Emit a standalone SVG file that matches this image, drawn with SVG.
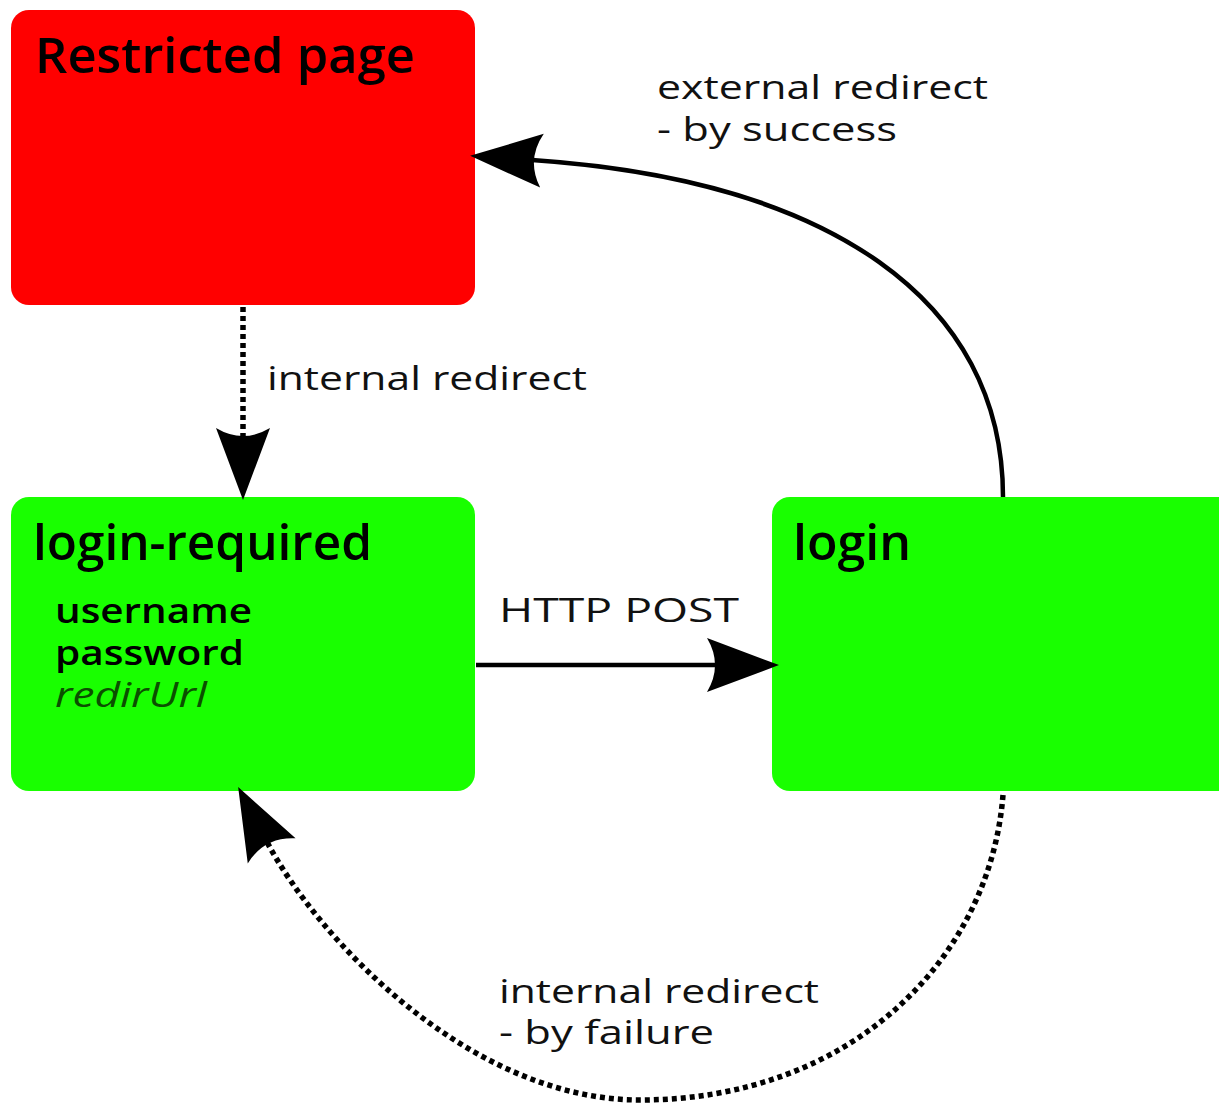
<svg xmlns="http://www.w3.org/2000/svg" width="1219" height="1106" viewBox="0 0 1219 1106">
<style>
.t{font-family:"Open Sans","DejaVu Sans",sans-serif;fill:#000}
.title{font-size:48px;font-weight:600}
.item{font-size:34px;font-weight:600}
.lbl{font-size:33px;font-weight:400;fill:#111}
.solid{fill:none;stroke:#000;stroke-width:4.5}
.dot{fill:none;stroke:#000;stroke-width:5.5;stroke-dasharray:5 4}
</style>
<defs>
<marker id="ah" markerUnits="userSpaceOnUse" markerWidth="90" markerHeight="70" refX="10" refY="0" orient="auto" overflow="visible" viewBox="-5 -35 90 70">
<path d="M0,-27 Q16,0 0,27 L72,0 Z" fill="#000"/>
</marker>
</defs>
<rect width="1219" height="1106" fill="#fff"/>
<g id="restricted">
<rect x="11" y="10" width="464" height="295" rx="18" fill="#ff0000"/>
<text class="t title" x="35" y="73" textLength="380" lengthAdjust="spacingAndGlyphs">Restricted page</text>
</g>
<g id="login-required">
<rect x="11" y="497" width="464" height="294" rx="18" fill="#19ff00"/>
<text class="t title" x="33" y="560" textLength="339" lengthAdjust="spacingAndGlyphs">login-required</text>
<text class="t item" x="55" y="623" textLength="197" lengthAdjust="spacingAndGlyphs">username</text>
<text class="t item" x="55" y="665" textLength="189" lengthAdjust="spacingAndGlyphs">password</text>
<text class="t item" x="55" y="707" textLength="152" lengthAdjust="spacingAndGlyphs" font-style="italic" style="fill:#0b4f00;font-weight:400">redirUrl</text>
</g>
<g id="login">
<rect x="772" y="497" width="470" height="294" rx="18" fill="#19ff00"/>
<text class="t title" x="793" y="560" textLength="118" lengthAdjust="spacingAndGlyphs">login</text>
</g>
<g id="connectors">
<path class="dot" d="M243,307 L243,438" marker-end="url(#ah)"/>
<path class="solid" d="M476,665 L717,665" stroke-width="5" marker-end="url(#ah)"/>
<path class="solid" d="M1003,497 C1003,300 830,180 532,160" marker-end="url(#ah)"/>
<path class="dot" d="M1003,795 C990,960 850,1100 640,1100 C470,1100 318,939 267,842" marker-end="url(#ah)"/>
<text class="t lbl" x="267" y="390" textLength="320" lengthAdjust="spacingAndGlyphs">internal redirect</text>
<text class="t lbl" x="499" y="622" textLength="240" lengthAdjust="spacingAndGlyphs">HTTP POST</text>
<text class="t lbl" x="657" y="99" textLength="331" lengthAdjust="spacingAndGlyphs">external redirect</text>
<text class="t lbl" x="657" y="141" textLength="240" lengthAdjust="spacingAndGlyphs">- by success</text>
<text class="t lbl" x="499" y="1003" textLength="320" lengthAdjust="spacingAndGlyphs">internal redirect</text>
<text class="t lbl" x="499" y="1044" textLength="215" lengthAdjust="spacingAndGlyphs">- by failure</text>
</g>
</svg>
